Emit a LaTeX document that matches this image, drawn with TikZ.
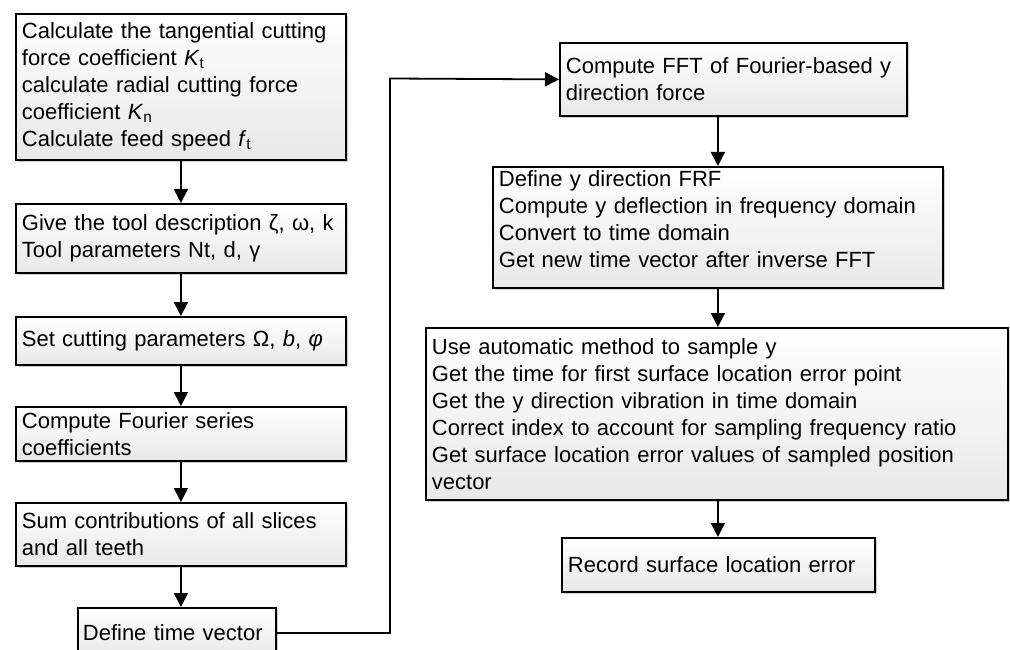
\documentclass[tikz,border=0pt]{standalone}
\usepackage{fontspec}
\setmainfont{Liberation Sans}
\usetikzlibrary{arrows.meta,shadows,calc}

\tikzset{
  stepbox/.style={
    draw=black, line width=1.8pt,
    shade, top color=white, bottom color=black!9,
    drop shadow={shadow xshift=2.5pt, shadow yshift=-2.5pt, opacity=0.2, fill=black},
    anchor=north west, inner xsep=6pt, inner ysep=1pt,
    align=left,
    font=\fontsize{22}{27}\selectfont
  },
  flow/.style={line width=1.8pt, -{Triangle[length=14pt,width=14pt]}}
}

\begin{document}
\begin{tikzpicture}[x=1pt,y=-1pt]
\useasboundingbox (0,0) rectangle (1010,650);

% left column
\node[stepbox, text width=318pt, minimum width=330pt, minimum height=146pt] (b1) at (15,13)
  {Calculate the tangential cutting\\
   force coefficient \textit{K}\textsubscript{t}\\
   calculate radial cutting force\\
   coefficient \textit{K}\textsubscript{n}\\
   Calculate feed speed \textit{f}\textsubscript{t}};
\node[stepbox, text width=318pt, minimum width=330pt, minimum height=69pt] (b2) at (15,203)
  {Give the tool description ζ, ω, k\\
   Tool parameters Nt, d, γ};
\node[stepbox, text width=318pt, minimum width=330pt, minimum height=48pt] (b3) at (15,316)
  {Set cutting parameters Ω, \textit{b}, \textit{φ}};
\node[stepbox, text width=318pt, minimum width=330pt, minimum height=54pt] (b4) at (15,406)
  {Compute Fourier series\\ coefficients};
\node[stepbox, text width=318pt, minimum width=330pt, minimum height=63pt] (b5) at (15,502)
  {Sum contributions of all slices\\ and all teeth};
\node[stepbox, inner xsep=5pt, text width=188pt, minimum width=198pt, minimum height=50pt] (b6) at (77,607)
  {Define time vector};

% right column
\node[stepbox, text width=335pt, minimum width=347pt, minimum height=73pt] (b7) at (559,42)
  {Compute FFT of Fourier-based y\\ direction force};
\node[stepbox, text width=438pt, minimum width=450pt, minimum height=121pt] (b8) at (492,166)
  {Define y direction FRF\\
   Compute y deflection in frequency domain\\
   Convert to time domain\\
   Get new time vector after inverse FFT\\[-11pt]\mbox{}};
\node[stepbox, text width=570pt, minimum width=582pt, minimum height=172pt] (b9) at (425,327)
  {Use automatic method to sample y\\
   Get the time for first surface location error point\\
   Get the y direction vibration in time domain\\
   Correct index to account for sampling frequency ratio\\
   Get surface location error values of sampled position\\
   vector};
\node[stepbox, text width=301pt, minimum width=313pt, minimum height=54pt] (b10) at (561,537)
  {Record surface location error};

\coordinate (turn) at (390,78.5);

% connectors
\draw[flow] (b1.south) -- (b2.north);
\draw[flow] (b2.south) -- (b3.north);
\draw[flow] (b3.south) -- (b4.north);
\draw[flow] (b4.south) -- (b5.north);
\draw[flow] (b5.south) -- (b5.south |- b6.north);
\draw[flow] (b6.east) -- (b6.east -| turn) -- (turn) -- (b7.west);
\draw[flow] (b8.north |- b7.south) -- (b8.north);
\draw[flow] (b8.south) -- (b8.south |- b9.north);
\draw[flow] (b8.south |- b9.south) -- (b8.south |- b10.north);
\end{tikzpicture}
\end{document}
